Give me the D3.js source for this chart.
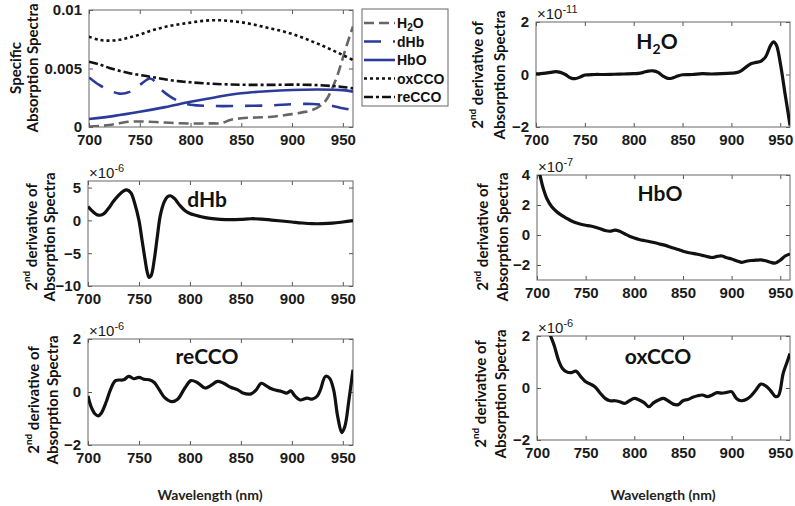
<!DOCTYPE html>
<html><head><meta charset="utf-8">
<script src="https://cdn.jsdelivr.net/npm/d3@7"></script>
<style>
body{margin:0;background:#fff;}
svg{display:block;}
.tick text{font-family:"Liberation Sans",Arial,sans-serif;font-weight:bold;font-size:15px;fill:#1a1a1a;}
</style></head>
<body>
<svg id="chart" width="795" height="506"></svg>
<script>
// ---------------- DATA ----------------
const xTicks = [700, 750, 800, 850, 900, 950];

// Top-left: specific absorption spectra (values x1e-3)
const wlH2O = [700,710,720,730,740,750,760,770,780,790,800,810,820,830,840,850,860,870,880,890,900,910,920,930,935,940,945,950,955,960];
const absH2O = [0.03,0.08,0.17,0.32,0.45,0.47,0.45,0.40,0.36,0.32,0.30,0.30,0.31,0.33,0.62,0.75,0.80,0.83,0.88,0.98,1.10,1.25,1.45,1.95,2.5,3.4,4.5,5.9,7.3,8.6];
const wlDHb = [700,710,720,730,740,750,760,765,770,780,790,800,820,850,880,900,920,930,940,950,960];
const absDHb = [4.24,3.6,3.15,2.85,3.0,3.6,4.15,3.9,3.3,2.6,2.15,1.9,1.8,1.8,1.85,1.95,1.97,1.9,1.8,1.6,1.45];
const wlHbO = [700,725,750,775,800,825,850,875,900,925,950,960];
const absHbO = [0.68,0.95,1.3,1.7,2.15,2.55,2.88,3.05,3.16,3.2,3.15,3.02];
const wlOx = [700,710,720,730,740,750,760,770,780,790,800,810,820,830,840,850,860,870,880,890,900,910,920,930,940,950,960];
const absOx = [7.72,7.45,7.38,7.45,7.65,7.9,8.2,8.45,8.65,8.8,8.92,9.05,9.12,9.12,9.05,8.95,8.8,8.6,8.4,8.2,7.95,7.65,7.3,6.95,6.55,6.15,5.73];
const wlRe = [700,710,720,730,740,750,760,770,780,790,800,820,840,860,880,900,920,940,950,960];
const absRe = [5.58,5.35,5.05,4.8,4.6,4.45,4.3,4.15,4.0,3.9,3.82,3.7,3.63,3.6,3.6,3.62,3.6,3.5,3.42,3.3];
const specTicks = [0, 0.005, 0.01];
const specTickLabels = ["0", "0.005", "0.01"];
const legendLabels = ["H2O", "dHb", "HbO", "oxCCO", "reCCO"];

// Second derivative panels
const wlD2H2O = [700,705,710,715,720,725,730,735,740,745,750,760,770,780,790,800,805,810,815,820,825,830,835,840,845,850,860,870,880,890,900,905,910,915,920,925,930,935,940,943,946,950,955,958,960];
const d2H2O = [0.02,0.03,0.05,0.08,0.11,0.08,0.0,-0.12,-0.16,-0.1,-0.02,0.0,0.0,0.01,0.02,0.03,0.04,0.08,0.13,0.14,0.08,-0.06,-0.15,-0.13,-0.06,-0.01,0.0,0.03,0.02,0.03,0.05,0.07,0.14,0.28,0.41,0.46,0.5,0.67,1.1,1.24,1.12,0.45,-0.75,-1.45,-1.94];
const wlD2DHb = [700,705,710,715,720,725,730,735,738,742,746,750,753,756,758,760,762,765,768,771,775,778,781,785,790,795,800,810,820,830,840,850,860,870,880,890,900,910,920,930,940,950,960];
const d2DHb = [2.1,1.3,0.8,0.95,1.8,2.9,3.8,4.5,4.65,4.2,2.5,0.0,-3.0,-6.0,-7.8,-8.7,-8.4,-6.0,-2.5,0.8,2.9,3.6,3.75,3.3,2.3,1.5,1.05,0.6,0.3,0.15,0.1,0.15,0.25,0.2,0.05,-0.1,-0.25,-0.4,-0.5,-0.5,-0.42,-0.25,-0.05];
const wlD2HbO = [700,703,706,710,715,720,725,730,735,740,745,750,755,760,765,770,775,780,785,790,795,800,805,810,815,820,825,830,835,840,845,850,855,860,865,870,875,880,885,890,895,900,905,910,915,920,925,930,935,940,945,950,955,960];
const d2HbO = [4.6,4.0,3.2,2.45,1.9,1.57,1.33,1.13,0.95,0.82,0.72,0.65,0.6,0.52,0.42,0.3,0.25,0.33,0.25,0.08,-0.08,-0.2,-0.3,-0.37,-0.43,-0.5,-0.58,-0.66,-0.76,-0.87,-0.97,-1.08,-1.17,-1.22,-1.28,-1.36,-1.44,-1.5,-1.43,-1.4,-1.52,-1.6,-1.72,-1.82,-1.75,-1.7,-1.68,-1.66,-1.72,-1.82,-1.87,-1.68,-1.4,-1.26];
const wlD2Re = [700,703,707,710,713,718,722,727,735,740,745,750,755,760,765,770,775,782,788,795,801,807,815,820,827,833,840,847,852,860,865,870,875,880,885,890,895,899,903,908,915,920,925,928,933,937,941,945,949,952,956,960];
const d2Re = [-0.15,-0.55,-0.83,-0.9,-0.8,-0.36,0.08,0.43,0.46,0.59,0.5,0.55,0.48,0.46,0.36,0.08,-0.2,-0.36,-0.27,0.15,0.43,0.36,0.15,0.23,0.4,0.33,0.18,0.08,-0.04,-0.07,0.08,0.33,0.23,0.12,0.06,0.02,-0.04,0.04,-0.15,-0.3,-0.23,-0.27,-0.15,0.08,0.59,0.52,0.08,-0.93,-1.53,-1.3,-0.3,0.84];
const wlD2Ox = [700,705,710,714,718,722,726,730,735,740,745,750,755,760,765,770,775,780,785,790,795,800,805,810,815,820,825,830,835,840,845,850,855,860,865,870,875,880,885,890,895,900,905,910,915,920,925,930,935,940,945,948,950,953,957,960];
const d2Ox = [3.4,2.9,2.4,2.0,1.6,1.08,0.76,0.63,0.59,0.65,0.44,0.24,0.15,0.03,-0.2,-0.4,-0.49,-0.49,-0.53,-0.59,-0.49,-0.4,-0.46,-0.56,-0.72,-0.56,-0.46,-0.4,-0.5,-0.62,-0.64,-0.49,-0.44,-0.36,-0.3,-0.27,-0.33,-0.27,-0.18,-0.2,-0.17,-0.14,-0.4,-0.49,-0.44,-0.3,-0.08,0.15,0.08,-0.1,-0.33,-0.3,-0.08,0.56,1.0,1.33];

// ---------------- LAYOUT ----------------
const svg = d3.select("#chart");
const FONT_LBL = "Lato, 'Open Sans', sans-serif";
const FONT_TICK = "'Liberation Sans', Arial, sans-serif";

const specSeries = [
  {name: legendLabels[0], wl: wlH2O, v: absH2O, color: "#666666", dash: "10,5", w: 2.6},
  {name: legendLabels[1], wl: wlDHb, v: absDHb, color: "#2b3a9b", dash: "17,12", w: 2.6},
  {name: legendLabels[2], wl: wlHbO, v: absHbO, color: "#2b3a9b", dash: null, w: 2.6},
  {name: legendLabels[3], wl: wlOx, v: absOx, color: "#111111", dash: "3,3", w: 2.6},
  {name: legendLabels[4], wl: wlRe, v: absRe, color: "#111111", dash: "9,3,3,3", w: 2.6}
];

const panels = [
  {id:"spec", x0:89, x1:353, y0:10, y1:127, ydom:[0,0.01], yt:specTicks, ytl:specTickLabels,
   lab:[{t:"Specific", x:15}, {t:"Absorption Spectra", x:32}], labY:68},
  {id:"h2o", x0:536, x1:790, y0:22, y1:127, ydom:[-2,2], yt:[-2,0,2], exp:"-11",
   wl:wlD2H2O, v:d2H2O, title:{t:"H2O", x:657, y:49}, lab2:true, labX:[477,499], labY:75},
  {id:"dhb", x0:88, x1:353, y0:181, y1:286, ydom:[-10,6], yt:[-10,-5,0,5], exp:"-6",
   wl:wlD2DHb, v:d2DHb, title:{t:"dHb", x:207, y:207}, lab2:true, labX:[31,49], labY:237},
  {id:"hbo", x0:537, x1:790, y0:175, y1:280, ydom:[-3,4], yt:[-2,0,2,4], exp:"-7",
   wl:wlD2HbO, v:d2HbO, title:{t:"HbO", x:660, y:201}, lab2:true, labX:[482,502], labY:237},
  {id:"recco", x0:88, x1:353, y0:339, y1:445, ydom:[-2,2], yt:[-2,0,2], exp:"-6",
   wl:wlD2Re, v:d2Re, title:{t:"reCCO", x:207, y:364}, lab2:true, labX:[33,52], labY:400},
  {id:"oxcco", x0:537, x1:790, y0:336, y1:440, ydom:[-2,2], yt:[-2,0,2], exp:"-6",
   wl:wlD2Ox, v:d2Ox, title:{t:"oxCCO", x:658, y:364}, lab2:true, labX:[480,500], labY:394}
];

function styleAxis(g){
  g.select(".domain").remove();
  g.selectAll(".tick line").attr("stroke","#555").attr("stroke-width",1);
}

panels.forEach(p => {
  const x = d3.scaleLinear().domain([700,960]).range([p.x0,p.x1]);
  const y = d3.scaleLinear().domain(p.ydom).range([p.y1,p.y0]);
  const g = svg.append("g");

  svg.append("clipPath").attr("id","clip-"+p.id).append("rect")
    .attr("x",p.x0).attr("y",p.y0).attr("width",p.x1-p.x0).attr("height",p.y1-p.y0);

  const bx = g.append("g").attr("transform",`translate(0,${p.y1})`)
    .call(d3.axisBottom(x).tickValues(xTicks).tickSizeInner(-4).tickSizeOuter(0).tickPadding(7.5));
  styleAxis(bx);
  const tx = g.append("g").attr("transform",`translate(0,${p.y0})`)
    .call(d3.axisTop(x).tickValues(xTicks).tickSizeInner(-4).tickSizeOuter(0).tickFormat(""));
  styleAxis(tx);
  const ly = g.append("g").attr("transform",`translate(${p.x0},0)`)
    .call(d3.axisLeft(y).tickValues(p.yt).tickSizeInner(-4).tickSizeOuter(0).tickPadding(7)
      .tickFormat((d,i) => p.ytl ? p.ytl[i] : d3.format("d")(d)));
  styleAxis(ly);
  const ry = g.append("g").attr("transform",`translate(${p.x1},0)`)
    .call(d3.axisRight(y).tickValues(p.yt).tickSizeInner(-4).tickSizeOuter(0).tickFormat(""));
  styleAxis(ry);

  g.append("rect").attr("x",p.x0).attr("y",p.y0).attr("width",p.x1-p.x0).attr("height",p.y1-p.y0)
    .attr("fill","none").attr("stroke","#666").attr("stroke-width",1);

  const line = d3.line().x(d=>x(d[0])).y(d=>y(d[1])).curve(d3.curveCatmullRom.alpha(0.5));

  if (p.id === "spec") {
    const gl = g.append("g").attr("clip-path","url(#clip-spec)");
    specSeries.forEach(s => {
      const pts = s.wl.map((w,i)=>[w, s.v[i]*1e-3]);
      gl.append("path").attr("d", line(pts)).attr("fill","none")
        .attr("stroke", s.color).attr("stroke-width", s.w)
        .attr("stroke-dasharray", s.dash);
    });
  } else {
    const pts = p.wl.map((w,i)=>[w, p.v[i]]);
    g.append("g").attr("clip-path",`url(#clip-${p.id})`)
      .append("path").attr("d", line(pts)).attr("fill","none")
      .attr("stroke","#111").attr("stroke-width",3.2).attr("stroke-linejoin","round");
  }

  if (p.exp) {
    const t = svg.append("text").attr("x", p.x0+1).attr("y", p.y0-3)
      .attr("font-family", FONT_TICK).attr("font-size", 15).attr("fill","#1a1a1a");
    t.append("tspan").text("\u00d710");
    t.append("tspan").attr("dy",-6).attr("font-size",11).text(p.exp);
  }

  if (p.title) {
    const t = svg.append("text").attr("x", p.title.x).attr("y", p.title.y)
      .attr("text-anchor","middle").attr("font-family",FONT_LBL).attr("font-weight","bold")
      .attr("font-size",21).attr("fill","#111");
    if (p.title.t === "H2O") {
      t.append("tspan").text("H");
      t.append("tspan").attr("font-size",14).attr("dy",5).text("2");
      t.append("tspan").attr("dy",-5).text("O");
    } else t.text(p.title.t);
  }

  if (p.lab) {
    p.lab.forEach(l => {
      svg.append("text").attr("transform",`translate(${l.x},${p.labY}) rotate(-90)`)
        .attr("text-anchor","middle").attr("dominant-baseline","central")
        .attr("font-family",FONT_LBL).attr("font-weight","bold").attr("font-size",15)
        .attr("fill","#111").text(l.t);
    });
  }
  if (p.lab2) {
    const t1 = svg.append("text").attr("transform",`translate(${p.labX[0]},${p.labY}) rotate(-90)`)
      .attr("text-anchor","middle").attr("dominant-baseline","central")
      .attr("font-family",FONT_LBL).attr("font-weight","bold").attr("font-size",15).attr("fill","#111");
    t1.append("tspan").text("2");
    t1.append("tspan").attr("font-size",10).attr("dy",-5).text("nd");
    t1.append("tspan").attr("dy",5).text(" derivative of");
    svg.append("text").attr("transform",`translate(${p.labX[1]},${p.labY}) rotate(-90)`)
      .attr("text-anchor","middle").attr("dominant-baseline","central")
      .attr("font-family",FONT_LBL).attr("font-weight","bold").attr("font-size",15)
      .attr("fill","#111").text("Absorption Spectra");
  }
});

// legend
const lg = svg.append("g");
lg.append("rect").attr("x",362).attr("y",9).attr("width",86).attr("height",97)
  .attr("fill","#fff").attr("stroke","#666").attr("stroke-width",1);
const legY = d3.scalePoint().domain(legendLabels).range([23,97]);
specSeries.forEach(s => {
  const yy = legY(s.name);
  lg.append("line").attr("x1",364).attr("x2",395).attr("y1",yy).attr("y2",yy)
    .attr("stroke",s.color).attr("stroke-width",2.6).attr("stroke-dasharray",s.dash);
  const t = lg.append("text").attr("x",397).attr("y",yy).attr("dominant-baseline","central")
    .attr("font-family",FONT_TICK).attr("font-weight","bold").attr("font-size",14).attr("fill","#111");
  if (s.name === "H2O") {
    t.append("tspan").text("H");
    t.append("tspan").attr("font-size",10).attr("dy",4).text("2");
    t.append("tspan").attr("dy",-4).text("O");
  } else t.text(s.name);
});

// x labels
[[210,500],[663,500]].forEach(([cx,cy]) => {
  svg.append("text").attr("x",cx).attr("y",cy).attr("text-anchor","middle")
    .attr("font-family",FONT_LBL).attr("font-weight","bold")
    .attr("font-size",14).attr("fill","#222").text("Wavelength (nm)");
});
</script>
</body></html>
